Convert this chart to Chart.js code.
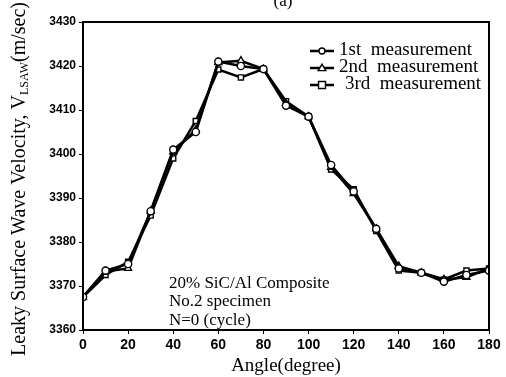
<!DOCTYPE html>
<html>
<head>
<meta charset="utf-8">
<script src="https://cdn.jsdelivr.net/npm/chart.js@4"></script>
<style>
  html, body { margin: 0; padding: 0; background: #fff; }
  #wrap { width: 506px; height: 377px; }
</style>
</head>
<body>
<div id="wrap"><canvas id="myChart"></canvas></div>
<script>
// angle in degrees
const angles = [0, 10, 20, 30, 40, 50, 60, 70, 80, 90, 100, 110, 120, 130, 140, 150, 160, 170, 180];
const first  = [3367.5, 3373.5, 3375, 3387, 3401, 3405, 3421, 3420, 3419.3, 3411, 3408.5, 3397.5, 3391.5, 3383, 3374, 3373, 3371, 3372.5, 3373.5];
const second = [3367.5, 3373.3, 3374, 3387, 3400.5, 3405.5, 3420.8, 3421.2, 3419.3, 3411.5, 3408.5, 3397, 3391, 3383, 3374.5, 3373, 3371.5, 3372, 3374];
const third  = [3367.5, 3372.5, 3375.5, 3386, 3399, 3407.5, 3419.2, 3417.4, 3419.3, 3412, 3408.5, 3396.5, 3392, 3382.5, 3373.5, 3373, 3371.5, 3373.5, 3374];
const yTicks = [3360, 3370, 3380, 3390, 3400, 3410, 3420, 3430];
const xTicks = [0, 20, 40, 60, 80, 100, 120, 140, 160, 180];
const seriesNames = ['1st  measurement', '2nd  measurement', '3rd  measurement'];
const markers = ['circle', 'triangle', 'rect'];

const serif = '"Liberation Serif", "DejaVu Serif", serif';
const sans = '"Liberation Sans", Arial, sans-serif';

function toPoints(ys) {
    return angles.map((a, i) => ({ x: a, y: ys[i] }));
}

const decorations = {
    id: 'decorations',
    afterDraw(chart) {
        const ctx = chart.ctx;
        const a = chart.chartArea;
        ctx.save();
        // frame
        ctx.strokeStyle = '#000';
        ctx.lineWidth = 2;
        ctx.strokeRect(a.left, a.top, a.right - a.left, a.bottom - a.top);

        // panel label, cut at top
        ctx.fillStyle = '#000';
        ctx.font = '17px ' + serif;
        ctx.textAlign = 'center';
        ctx.textBaseline = 'alphabetic';
        ctx.fillText('(a)', 283, 6);

        // annotation
        ctx.textAlign = 'left';
        ctx.font = '17px ' + serif;
        ctx.fillText('20% SiC/Al Composite', 169, 288);
        ctx.fillText('No.2 specimen', 169, 306);
        ctx.fillText('N=0 (cycle)', 169, 325);

        // legend
        ctx.font = '19px ' + serif;
        for (let i = 0; i < 3; i++) {
            const y = 51 + i * 17;
            ctx.strokeStyle = '#000';
            ctx.lineWidth = 2.5;
            ctx.beginPath();
            ctx.moveTo(310, y);
            ctx.lineTo(334, y);
            ctx.stroke();
            ctx.lineWidth = 1.4;
            ctx.fillStyle = '#fff';
            ctx.beginPath();
            if (markers[i] === 'circle') {
                ctx.arc(322, y, 3, 0, Math.PI * 2);
            } else if (markers[i] === 'triangle') {
                ctx.moveTo(322, y - 3.8);
                ctx.lineTo(325.8, y + 2.6);
                ctx.lineTo(318.2, y + 2.6);
                ctx.closePath();
            } else {
                ctx.rect(318.5, y - 3.5, 7, 7);
            }
            ctx.fill();
            ctx.stroke();
            ctx.fillStyle = '#000';
            ctx.textBaseline = 'middle';
            ctx.fillText(seriesNames[i], 339 + (i === 2 ? 6 : 0), y - 1);
        }

        // y axis title with subscript
        ctx.translate(20, 179);
        ctx.rotate(-Math.PI / 2);
        ctx.textBaseline = 'middle';
        ctx.textAlign = 'left';
        const main = 'Leaky Surface Wave Velocity, V';
        const sub = 'LSAW';
        const tail = '(m/sec)';
        ctx.font = '20px ' + serif;
        const w1 = ctx.measureText(main).width;
        const w3 = ctx.measureText(tail).width;
        ctx.font = '12px ' + serif;
        const w2 = ctx.measureText(sub).width;
        let x = -(w1 + w2 + w3) / 2;
        ctx.font = '20px ' + serif;
        ctx.fillText(main, x, 0);
        x += w1;
        ctx.font = '12px ' + serif;
        ctx.fillText(sub, x, 5);
        x += w2;
        ctx.font = '20px ' + serif;
        ctx.fillText(tail, x, 0);
        ctx.restore();
    }
};

const datasets = [first, second, third].map((ys, i) => ({
    label: seriesNames[i],
    data: toPoints(ys),
    borderColor: '#000',
    borderWidth: 2.5,
    pointStyle: markers[i],
    pointRadius: markers[i] === 'triangle' ? 4 : 3.6,
    pointBackgroundColor: '#fff',
    pointBorderColor: '#000',
    pointBorderWidth: 1.4,
    tension: 0,
    fill: false
}));

const chart = new Chart(
    document.getElementById('myChart'),
    {
        type: 'line',
        data: { datasets: datasets },
        options: {
            responsive: true,
            maintainAspectRatio: false,
            animation: false,
            layout: { padding: { left: 0, right: 17, top: 22, bottom: 0 } },
            plugins: {
                legend: { display: false },
                tooltip: { enabled: false }
            },
            scales: {
                x: {
                    type: 'linear',
                    min: 0,
                    max: 180,
                    afterBuildTicks: (axis) => { axis.ticks = xTicks.map(v => ({ value: v })); },
                    grid: { drawOnChartArea: false, color: '#000', tickLength: 4, lineWidth: 1 },
                    border: { display: false },
                    ticks: {
                        color: '#000',
                        padding: 3,
                        maxRotation: 0,
                        callback: (v) => String(v),
                        font: { family: sans, size: 14, weight: 'bold' }
                    },
                    title: {
                        display: true,
                        text: 'Angle(degree)',
                        color: '#000',
                        padding: { top: 0, bottom: 0 },
                        font: { family: serif, size: 19 }
                    },
                    afterFit: (axis) => { axis.height = 47; }
                },
                y: {
                    min: 3360,
                    max: 3430,
                    afterBuildTicks: (axis) => { axis.ticks = yTicks.map(v => ({ value: v })); },
                    grid: { drawOnChartArea: false, color: '#000', tickLength: 4, lineWidth: 1 },
                    border: { display: false },
                    ticks: {
                        color: '#000',
                        padding: 3,
                        callback: (v) => String(v),
                        font: { family: sans, size: 12, weight: 'bold' }
                    },
                    afterFit: (axis) => { axis.width = 83; }
                }
            }
        },
        plugins: [decorations]
    }
);
</script>
</body>
</html>
